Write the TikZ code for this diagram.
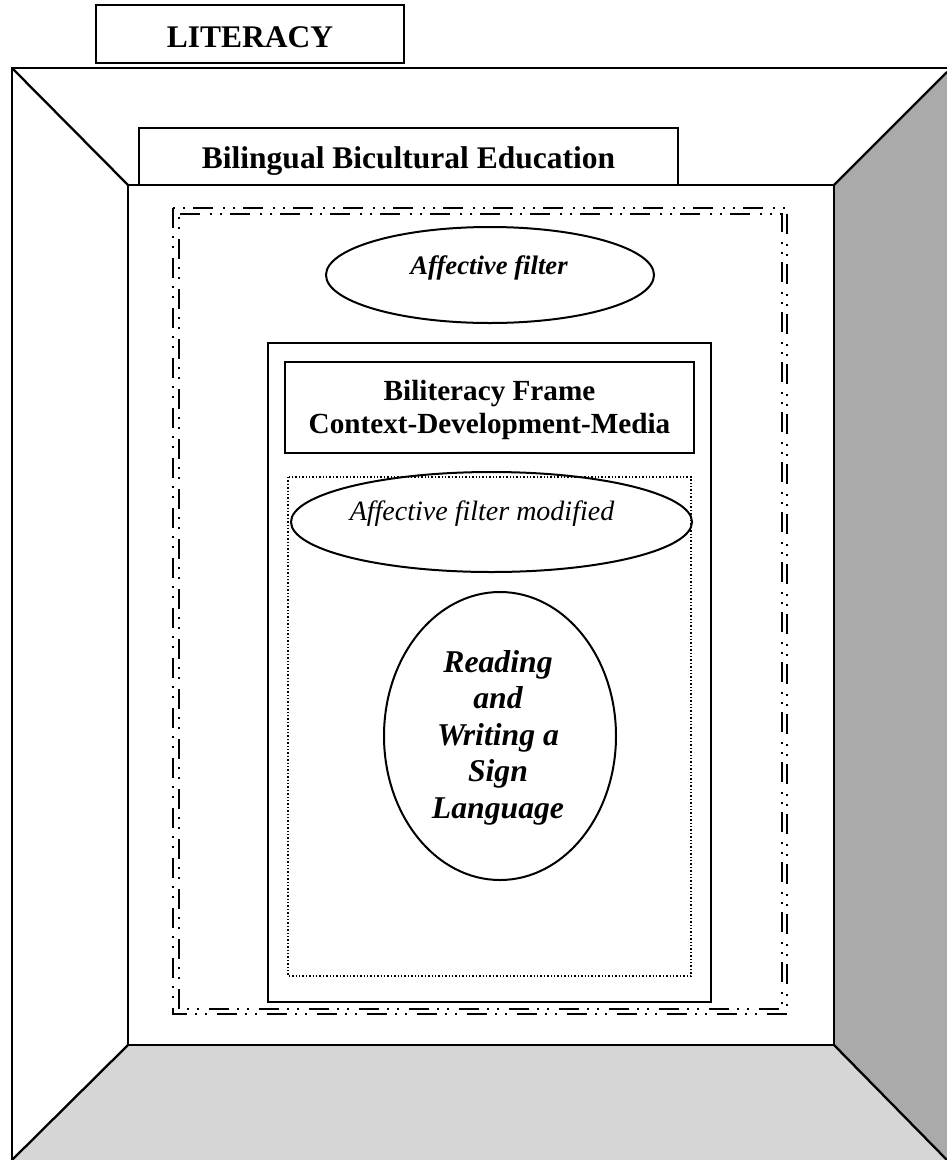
\documentclass[tikz,border=0pt]{standalone}
\usepackage{fontspec}
\setmainfont{Liberation Serif}
\definecolor{wallgray}{HTML}{AAAAAA}
\definecolor{floorgray}{HTML}{D6D6D6}
\begin{document}
\begin{tikzpicture}[x=1pt,y=-1pt,
  frameline/.style={line width=2.3pt},
  boxline/.style={line width=2.2pt},
  ovalline/.style={line width=2pt},
  dashdotdot/.style={dash pattern=on 20pt off 8pt on 2pt off 8pt on 2pt off 10pt},
  outerdd/.style={dashdotdot, line width=2.8pt},
  innerdd/.style={dashdotdot, line width=2pt, dash phase=25pt},
  dotline/.style={line width=1.4pt, dash pattern=on 1.4pt off 2pt},
  label/.style={anchor=base, inner sep=0pt, align=center}]
\useasboundingbox (0,0) rectangle (947,1160);
% room
\coordinate (otl) at (12,68);
\coordinate (obl) at (12,1160);
\coordinate (otr) at (947,68);
\coordinate (otrd) at (947,72);
\coordinate (obr) at (947,1160);
\coordinate (itl) at (128,185);
\coordinate (itr) at (834,185);
\coordinate (ibr) at (834,1045);
\coordinate (ibl) at (128,1045);
\fill[floorgray] (ibl) -- (ibr) -- (obr) -- (obl) -- cycle;
\fill[wallgray] (itr) -- (otrd) -- (obr) -- (ibr) -- cycle;
\draw[frameline] (obl) -- (otl) -- (otr);
\draw[frameline] (itl) rectangle (ibr);
\draw[frameline] (otl) -- (itl);
\draw[frameline] (otrd) -- (itr);
\draw[frameline] (ibr) -- (obr);
\draw[frameline] (ibl) -- (obl);
% LITERACY
\draw[boxline] (96,5) rectangle (404,63);
\node[label, font=\bfseries\fontsize{31.5}{36}\selectfont] (lit) at (250,47) {LITERACY};
% Bilingual
\draw[boxline,fill=white] (139,128) rectangle (678,185);
\node[label, font=\bfseries\fontsize{31.5}{36}\selectfont] (bbe) at (408.5,168) {Bilingual Bicultural Education};
% dash-dot-dot double frame
\draw[outerdd] (173,208) rectangle (787,1014);
\draw[innerdd] (179,214) rectangle (782,1009);
% affective filter
\coordinate (afc) at (490,275);
\draw[ovalline] (afc) ellipse [x radius=164, y radius=48];
\node[label, font=\bfseries\itshape\fontsize{26.7}{30}\selectfont] (af) at (489,274) {Affective filter};
% biliteracy frame
\draw[boxline] (268,343) rectangle (711,1002);
\draw[boxline] (285,362) rectangle (694,453);
\node[label, font=\bfseries\fontsize{29.2}{33}\selectfont] (bf1) at (489.5,400) {Biliteracy Frame};
\node[label, font=\bfseries\fontsize{29.2}{33}\selectfont] (bf2) at (489.5,433) {Context-Development-Media};
% dotted box
\draw[dotline] (288,477) rectangle (691,976);
\coordinate (afmc) at (491.5,522);
\draw[ovalline] (afmc) ellipse [x radius=200.5, y radius=50];
\node[label, font=\itshape\fontsize{28}{33}\selectfont] (afm) at (482,520) {Affective filter modified};
% reading
\coordinate (rc) at (500,736);
\draw[ovalline] (rc) ellipse [x radius=116, y radius=144];
\node[label, font=\bfseries\itshape\fontsize{31.7}{36.6}\selectfont] (r1) at (498,672) {Reading};
\node[label, font=\bfseries\itshape\fontsize{31.7}{36.6}\selectfont] (r2) at (498,708.5) {and};
\node[label, font=\bfseries\itshape\fontsize{31.7}{36.6}\selectfont] (r3) at (498,745) {Writing a};
\node[label, font=\bfseries\itshape\fontsize{31.7}{36.6}\selectfont] (r4) at (498,781.5) {Sign};
\node[label, font=\bfseries\itshape\fontsize{31.7}{36.6}\selectfont] (r5) at (498,818) {Language};
\end{tikzpicture}
\end{document}
